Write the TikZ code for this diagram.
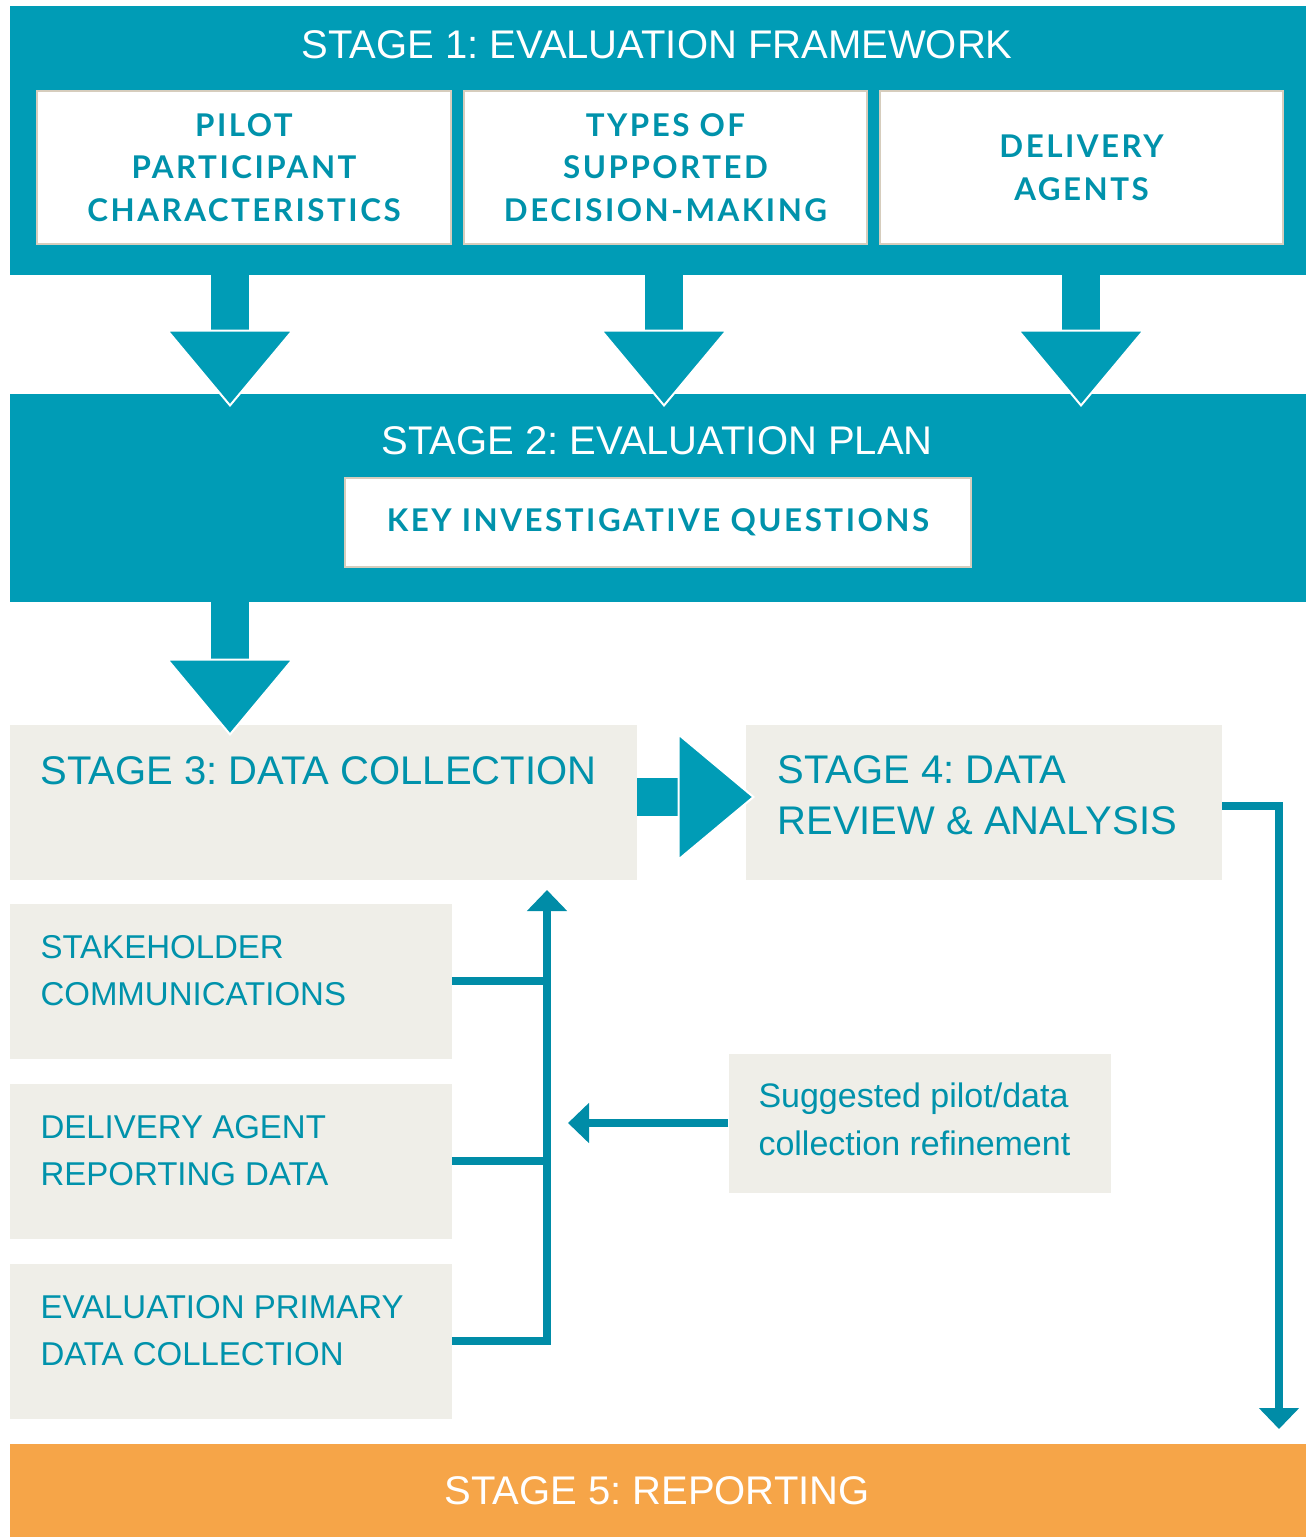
\documentclass[tikz,border=0pt]{standalone}
\usepackage{fontspec}
\setmainfont{Liberation Sans}
\newfontfamily\boxfont{Lato}[LetterSpace=8]
\usetikzlibrary{arrows.meta,positioning}

\definecolor{band}{HTML}{009CB6}
\definecolor{boxtext}{HTML}{0092AB}
\definecolor{link}{HTML}{008CA7}
\definecolor{beige}{HTML}{EFEEE8}
\definecolor{border}{HTML}{D6CDBD}
\definecolor{report}{HTML}{F6A548}

\frenchspacing
\tikzset{every picture/.style={line width=0.75pt}}
\tikzset{
  wh/.style 2 args={minimum width=#1*0.75pt, minimum height=#2*0.75pt},
  bandbox/.style={fill=band, inner sep=0, anchor=north west},
  paper/.style={fill=beige, inner sep=0, anchor=north west},
  whitebox/.style={fill=white, draw=border, line width=1.5pt, anchor=north west, align=center,
    text=boxtext, font=\boxfont\bfseries\fontsize{23.5}{32}\selectfont},
  heading/.style={text=white, inner sep=0, anchor=base, font=\fontsize{30}{36}\selectfont},
  stagetext/.style={text=boxtext, inner sep=0, anchor=north west, align=left, font=\fontsize{30}{38.25}\selectfont},
  srctext/.style={text=boxtext, inner sep=0, anchor=north west, align=left, font=\fontsize{24.75}{35.25}\selectfont},
  bigarrow/.style={draw=band, line width=28.5pt,
    -{Triangle[length=58pt, width=96.5pt, color=white, fill=band, line width=1.5pt]}},
  connector/.style={draw=link, line width=6pt},
  connectorarrow/.style={connector, -{Triangle[length=15.75pt, width=29.25pt]}},
}

\begin{document}
\begin{tikzpicture}[x=0.75pt,y=0.75pt,yscale=-1,xscale=1]

        \useasboundingbox (0,0) rectangle (1311,1537);

        \node[bandbox, wh={1296}{268}] (stageone) at (9,6) {};
        \node[heading] (stageonetitle) at (657,59) {STAGE 1: EVALUATION FRAMEWORK};
        \node[whitebox, wh={414}{153}] (pilot) at (36,90) {PILOT\\PARTICIPANT\\CHARACTERISTICS};
        \node[whitebox, wh={403}{153}] (types) at (463,90) {TYPES OF\\SUPPORTED\\DECISION-MAKING};
        \node[whitebox, wh={403}{153}] (agents) at (879,90) {DELIVERY\\AGENTS};

        \node[bandbox, wh={1296}{208}] (stagetwo) at (9,393) {};
        \node[heading] (stagetwotitle) at (657,454) {STAGE 2: EVALUATION PLAN};
        \node[whitebox, wh={626}{89}] (questions) at (344,477) {KEY INVESTIGATIVE QUESTIONS};

        \node[paper, wh={627}{155}] (stagethree) at (9,724) {};
        \node[stagetext] (stagethreetitle) at (40,756) {STAGE 3: DATA COLLECTION};
        \node[paper, wh={476}{155}] (stagefour) at (745,724) {};
        \node[stagetext] (stagefourtitle) at (777,755) {STAGE 4: DATA\\REVIEW \& ANALYSIS};

        \node[paper, wh={442}{155}] (stakeholder) at (9,903) {};
        \node[srctext] (stakeholdertext) at (40,935) {STAKEHOLDER\\COMMUNICATIONS};
        \node[paper, wh={442}{155}] (agentdata) at (9,1083) {};
        \node[srctext] (agentdatatext) at (40,1115) {DELIVERY AGENT\\REPORTING DATA};
        \node[paper, wh={442}{155}] (primary) at (9,1263) {};
        \node[srctext] (primarytext) at (40,1295) {EVALUATION PRIMARY\\DATA COLLECTION};

        \node[paper, wh={382}{139}] (refine) at (728,1053) {};
        \node[srctext, font=\fontsize{25.5}{36}\selectfont] (refinetext) at (758,1082) {Suggested pilot/data\\collection refinement};

        \node[fill=report, inner sep=0, anchor=north west, wh={1296}{94}] (stagefive) at (9,1443) {};
        \node[heading] (stagefivetitle) at (657,1504) {STAGE 5: REPORTING};

        \coordinate (tipone) at (230,407);
        \coordinate (tiptwo) at (664,407);
        \coordinate (tipthree) at (1081,407);
        \coordinate (tipfour) at (230,736);
        \coordinate (tipfive) at (755,797);
        \coordinate (up) at (547,890);
        \coordinate (back) at (568,1123);
        \coordinate (down) at (1279,1429);

        \draw[bigarrow] (tipone |- stageone.south) -- (tipone);
        \draw[bigarrow] (tiptwo |- stageone.south) -- (tiptwo);
        \draw[bigarrow] (tipthree |- stageone.south) -- (tipthree);
        \draw[bigarrow] (tipfour |- stagetwo.south) -- (tipfour);
        \draw[bigarrow] (stagethree.east |- tipfive) -- (tipfive);

        \draw[connector] (stakeholder.east) -- (stakeholder.east -| up);
        \draw[connector] (agentdata.east) -- (agentdata.east -| up);
        \draw[connectorarrow] (primary.east) -| (up);
        \draw[connectorarrow] (refine.west) -- (back);
        \draw[connectorarrow] ([yshift=3pt]stagefour.east) -| (down);

        \end{tikzpicture}
\end{document}
